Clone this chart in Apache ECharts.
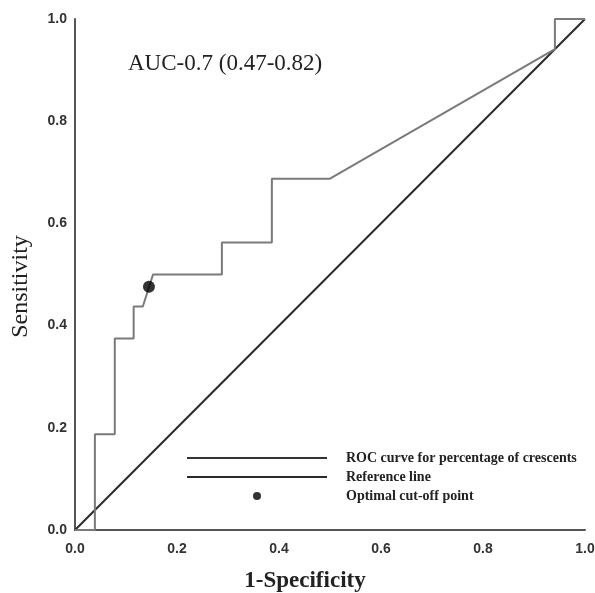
<!DOCTYPE html>
<html>
<head>
<meta charset="utf-8">
<script src="https://cdn.jsdelivr.net/npm/echarts@6/dist/echarts.min.js"></script>
<style>html,body{margin:0;padding:0;background:#fff}#c{width:595px;height:593px}</style>
</head>
<body>
<div id="c"></div>
<script>
var rocX = [0, 0.039, 0.039, 0.078, 0.078, 0.115, 0.115, 0.133, 0.153, 0.288, 0.288, 0.386, 0.386, 0.5, 0.941, 0.941, 1];
var rocY = [0, 0, 0.1875, 0.1875, 0.375, 0.375, 0.4375, 0.4375, 0.5, 0.5, 0.5625, 0.5625, 0.6875, 0.6875, 0.941, 1, 1];
var refX = [0, 1];
var refY = [0, 1];
var cutX = [0.145];
var cutY = [0.476];
var tickValues = [0, 0.2, 0.4, 0.6, 0.8, 1.0];
var names = ['ROC curve for percentage of crescents', 'Reference line', 'Optimal cut-off point'];
var aucText = 'AUC-0.7 (0.47-0.82)';

function pairs(xs, ys) { return xs.map(function (x, i) { return [x, ys[i]]; }); }

var chart = echarts.init(document.getElementById('c'), null, { renderer: 'canvas' });
var axisLabel = { fontFamily: 'Liberation Sans', fontWeight: 'bold', fontSize: 14, color: '#333',
  formatter: function (v) { return v.toFixed(1); } };
var lineIcon = 'path://M0,0H140V2H0Z';
chart.setOption({
  backgroundColor: '#fff',
  animation: false,
  title: { text: aucText, left: 123, top: 47, textStyle: { fontFamily: 'Liberation Serif', fontWeight: 'normal', fontSize: 23, color: '#222' } },
  grid: { left: 75, top: 19, width: 510, height: 511, outerBoundsMode: 'none', containLabel: false },
  xAxis: {
    type: 'value', min: 0, max: 1, interval: 0.2,
    name: '1-Specificity', nameLocation: 'middle', nameGap: 40,
    nameTextStyle: { fontFamily: 'Liberation Serif', fontWeight: 'bold', fontSize: 23, color: '#222', padding: [0, 50, 0, 0] },
    axisLine: { show: true, lineStyle: { color: '#555', width: 2 } },
    axisTick: { show: false }, splitLine: { show: false },
    axisLabel: Object.assign({ margin: 12 }, axisLabel)
  },
  yAxis: {
    type: 'value', min: 0, max: 1, interval: 0.2,
    name: 'Sensitivity', nameLocation: 'middle', nameGap: 42,
    nameTextStyle: { fontFamily: 'Liberation Serif', fontWeight: 'normal', fontSize: 24, color: '#222', padding: [0, 24, 0, 0] },
    axisLine: { show: true, lineStyle: { color: '#555', width: 2 } },
    axisTick: { show: false }, splitLine: { show: false },
    axisLabel: Object.assign({ margin: 8 }, axisLabel)
  },
  legend: {
    orient: 'vertical', left: 187, top: 451, itemWidth: 140, itemHeight: 8, itemGap: 5, padding: 0,
    selectedMode: false,
    textStyle: { fontFamily: 'Liberation Serif', fontWeight: 'bold', fontSize: 14, color: '#222', padding: [0, 0, 0, 14] },
    data: [
      { name: names[0], icon: lineIcon, itemStyle: { color: '#333' } },
      { name: names[1], icon: lineIcon, itemStyle: { color: '#2a2a2a' } },
      { name: names[2] }
    ]
  },
  series: [
    { name: names[0], type: 'line', data: pairs(rocX, rocY), symbol: 'none', lineStyle: { color: '#7a7a7a', width: 2 }, itemStyle: { color: '#333' }, z: 3 },
    { name: names[1], type: 'line', data: pairs(refX, refY), symbol: 'none', lineStyle: { color: '#2a2a2a', width: 2 }, itemStyle: { color: '#2a2a2a' }, z: 2 },
    { name: names[2], type: 'scatter', data: pairs(cutX, cutY), symbol: 'circle', symbolSize: 12, itemStyle: { color: '#000' }, z: 4 }
  ]
});
</script>
</body>
</html>
